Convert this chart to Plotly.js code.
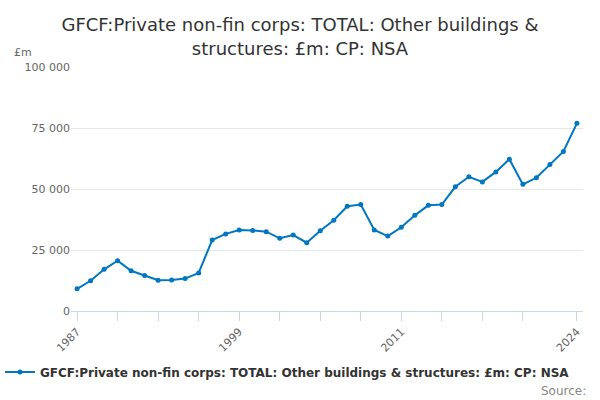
<!DOCTYPE html>
<html>
<head>
<meta charset="utf-8">
<script src="https://cdn.plot.ly/plotly-3.0.1.min.js"></script>
<style>
  html, body { margin: 0; padding: 0; background: #fff; }
  #chartBox { width: 600px; height: 400px; }
</style>
</head>
<body>
<div id="chartBox"></div>
<script>
// annual values, £m
const years = [];
for (let y = 1987; y <= 2024; y++) years.push(y);

const values = [
    9100, 12400, 17100, 20600, 16500, 14500, 12600, 12700, 13300, 15600,
    29100, 31600, 33200, 33000, 32500, 29800, 31100, 28000, 32900, 37200,
    42900, 43600, 33200, 30700, 34300, 39200, 43300, 43600, 50900, 55000,
    52900, 57000, 62200, 51900, 54600, 60000, 65400, 76900
];

const tickYears = [1987, 1990, 1993, 1996, 1999, 2002, 2005, 2008, 2011, 2014, 2017, 2020, 2024];
const labelYears = [1987, 1999, 2011, 2024];

const yTicks = [0, 25000, 50000, 75000, 100000];
const yLabels = ['0', '25 000', '50 000', '75 000', '100 000'];

const seriesName = 'GFCF:Private non-fin corps: TOTAL: Other buildings & structures: £m: CP: NSA';
const font = 'DejaVu Sans, sans-serif';

const trace = {
    x: years,
    y: values,
    name: seriesName,
    type: 'scatter',
    mode: 'lines+markers',
    line: { color: '#0077c0', width: 2 },
    marker: { color: '#0077c0', size: 5 },
};

const layout = {
    width: 600,
    height: 400,
    margin: { l: 71, r: 17, t: 67, b: 89, autoexpand: false },
    font: { family: font, color: '#666' },
    title: {
        text: 'GFCF:Private non-fin corps: TOTAL: Other buildings &<br>structures: £m: CP: NSA',
        font: { family: font, size: 18, color: '#333' },
        x: 0.5, xanchor: 'center',
        yref: 'container',
        y: 0.922, yanchor: 'middle',
    },
    xaxis: {
        range: [1986.55, 2024.45],
        tickvals: tickYears,
        ticktext: tickYears.map(y => labelYears.includes(y) ? String(y) : ''),
        tickangle: -45,
        ticks: 'outside',
        ticklen: 9,
        tickcolor: '#ccd6eb',
        showline: true,
        linecolor: '#ccd6eb',
        showgrid: false,
        zeroline: false,
        tickfont: { size: 11, color: '#666' },
    },
    yaxis: {
        range: [0, 100000],
        tickvals: yTicks,
        ticktext: yLabels,
        gridcolor: '#e6e6e6',
        zeroline: false,
        showline: false,
        ticks: '',
        tickfont: { size: 11, color: '#666' },
    },
    showlegend: true,
    legend: {
        orientation: 'h',
        xref: 'container', yref: 'container',
        x: 0, xanchor: 'left',
        y: 0.07, yanchor: 'middle',
        itemwidth: 30,
        font: { family: font, size: 12, color: '#333', weight: 'bold' },
    },
    annotations: [
        {
            text: '£m', xref: 'paper', yref: 'paper',
            x: -0.115, y: 1.025, xanchor: 'left', yanchor: 'bottom',
            showarrow: false, font: { size: 11, color: '#666' },
        },
        {
            text: 'Source:', xref: 'paper', yref: 'paper',
            x: 1.01, y: -0.29, xanchor: 'right', yanchor: 'top',
            showarrow: false, font: { size: 12, color: '#888' },
        },
    ],
    plot_bgcolor: '#fff',
    paper_bgcolor: '#fff',
};

Plotly.newPlot('chartBox', [trace], layout, { displayModeBar: false });
</script>
</body>
</html>
